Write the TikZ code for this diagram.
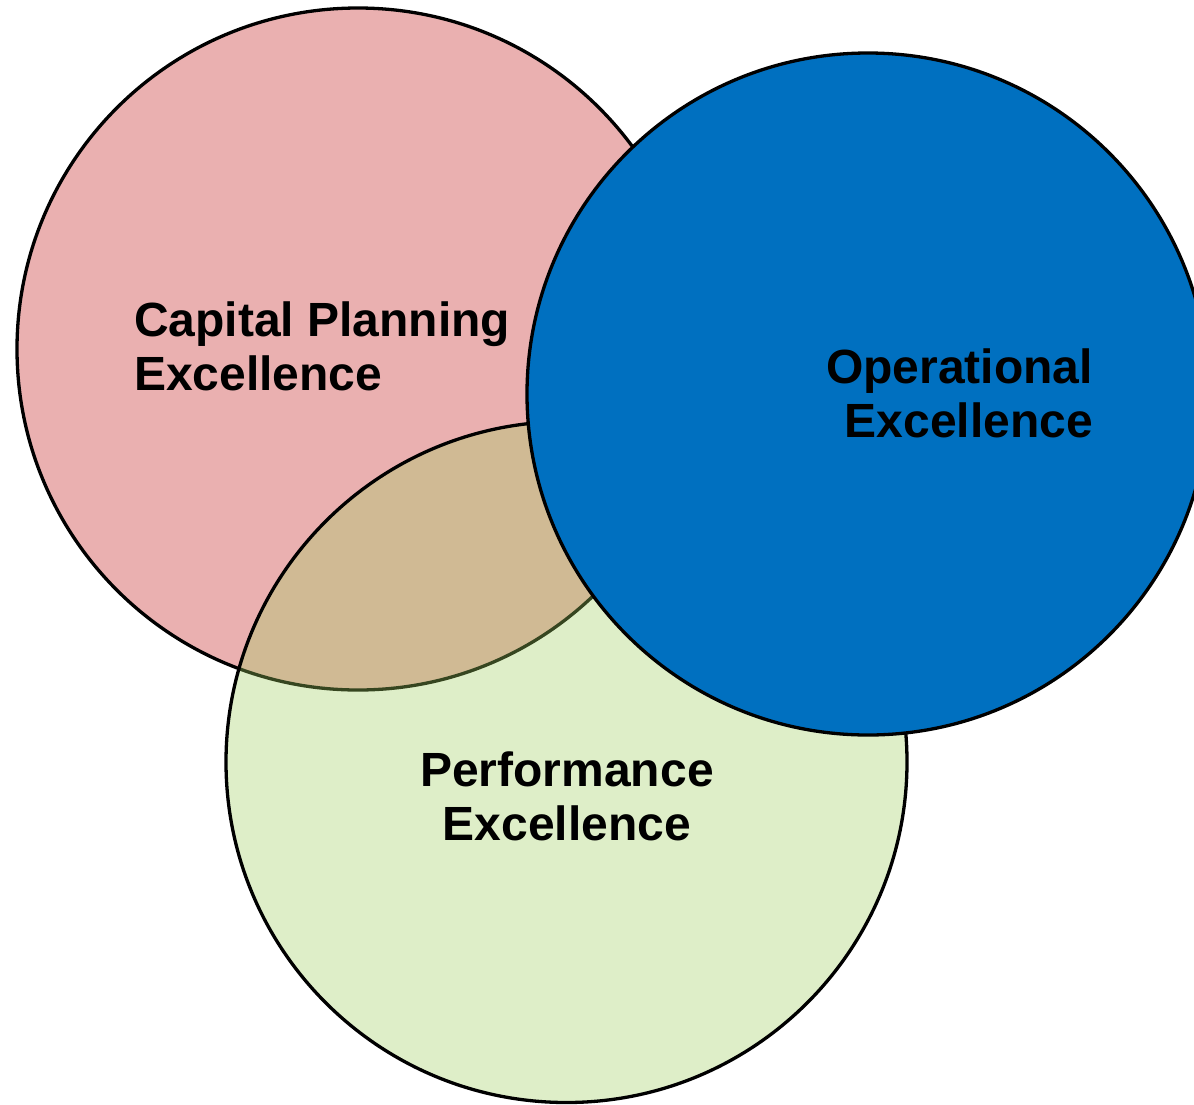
\documentclass[tikz,border=0pt]{standalone}
\usepackage{fontspec}
\setmainfont{Liberation Sans}
\definecolor{pinkfill}{RGB}{234,176,176}
\definecolor{greenfill}{RGB}{159,206,94}
\definecolor{bluefill}{RGB}{0,112,192}
\begin{document}
\begin{tikzpicture}[x=1pt,y=-1pt,
  circ/.style={draw=black,line width=3.3pt},
  lbl/.style={inner sep=0pt,font=\fontsize{48}{53.5}\selectfont\bfseries,text=black}]
\useasboundingbox (0,0) rectangle (1194,1104);
\draw[circ,fill=pinkfill] (358,349) circle[radius=341];
\draw[circ,fill=greenfill,fill opacity=0.34] (566.5,762) circle[radius=340.5];
\draw[circ,fill=bluefill] (868,394) circle[radius=341];
\node[lbl,anchor=base west,align=left] (cap) at (134,390) {Capital Planning\\Excellence};
\node[lbl,anchor=base east,align=right] (ope) at (1093,437) {Operational\\Excellence};
\node[lbl,anchor=base,align=center] (per) at (567,840) {Performance\\Excellence};
\end{tikzpicture}
\end{document}
